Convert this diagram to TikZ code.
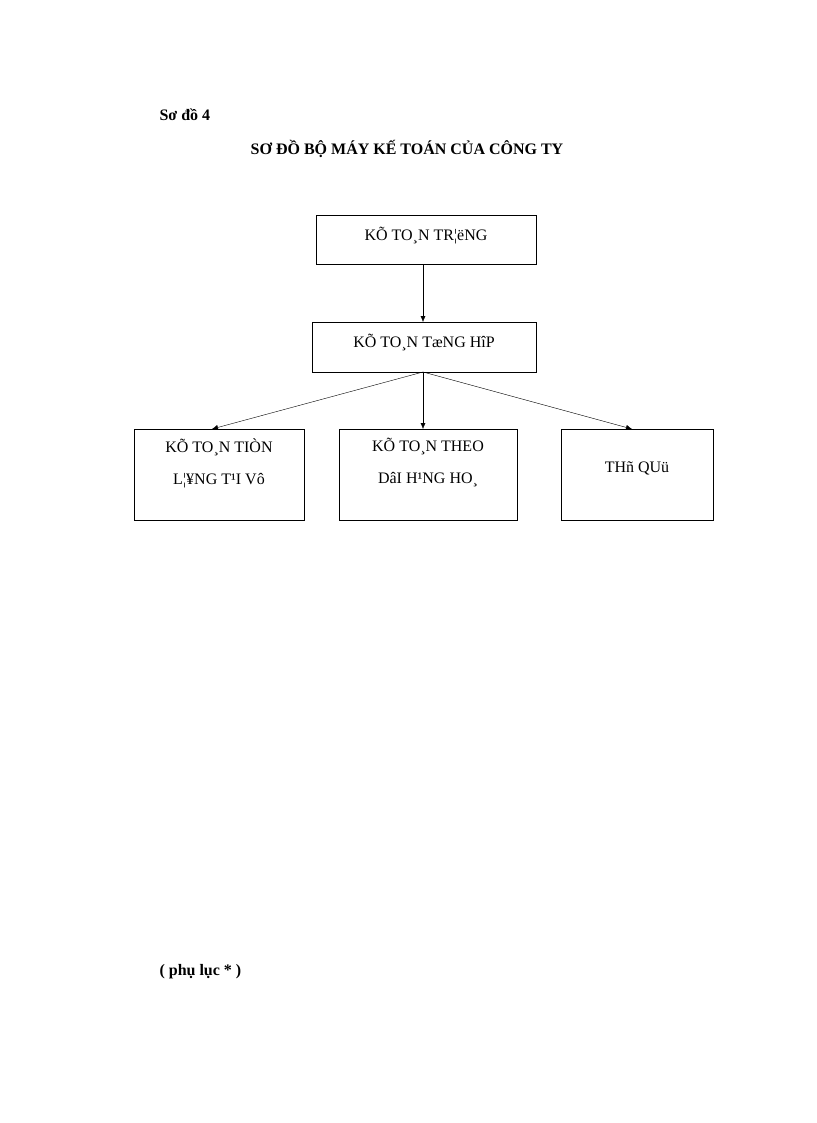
\documentclass[tikz,border=0pt]{standalone}
\usepackage{fontspec}
\setmainfont{Liberation Serif}
\usetikzlibrary{arrows.meta}
\begin{document}
\begin{tikzpicture}[x=1pt,y=-1pt,
  box/.style={draw,thick,inner sep=0},
  lbl/.style={font=\fontsize{16}{18}\selectfont},
  ttl/.style={font=\fontsize{16}{18}\selectfont\bfseries},
  arr/.style={-{Latex[length=6pt,width=5pt]}}]
\useasboundingbox (0,0) rectangle (816,1123);
\node[box,minimum width=220pt,minimum height=49pt] (a) at (426,239.5) {};
\node[lbl] (at) at (426,236) {KÕ TO¸N TR¦ëNG};
\node[box,minimum width=224pt,minimum height=50pt] (b) at (424,347) {};
\node[lbl] (bt) at (424,343) {KÕ TO¸N TæNG HîP};
\node[box,minimum width=170pt,minimum height=91pt] (c) at (219,474.5) {};
\node[lbl,align=center] (ct) at (219,463) {KÕ TO¸N TIÒN\\[14pt]L¦¥NG T¹I Vô};
\node[box,minimum width=178pt,minimum height=91pt] (d) at (428,474.5) {};
\node[lbl,align=center] (dt) at (428,463) {KÕ TO¸N THEO\\[14pt]DâI H¹NG HO¸};
\node[box,minimum width=152pt,minimum height=91pt] (e) at (637,474.5) {};
\node[lbl] (et) at (637,468) {THñ QUü};
\coordinate (bs) at (423,372);
\draw[arr] (423,264) -- (423,322);
\draw[arr] (bs) -- (212,429);
\draw[arr] (bs) -- (423,429);
\draw[arr] (bs) -- (632,429);
\node[ttl,anchor=west] (s) at (156,115) {Sơ đồ 4};
\node[ttl] (t) at (407,149) {SƠ ĐỒ BỘ MÁY KẾ TOÁN CỦA CÔNG TY};
\node[ttl,anchor=west] (p) at (156,972) {( phụ lục * )};
\end{tikzpicture}
\end{document}
